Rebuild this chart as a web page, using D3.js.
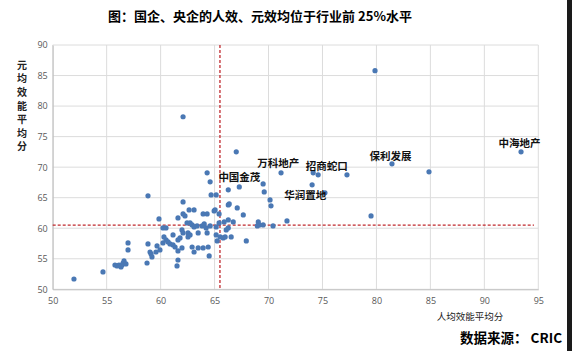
<!DOCTYPE html>
<html>
<head>
<meta charset="utf-8">
<script src="https://cdn.jsdelivr.net/npm/d3@7"></script>
<style>
  body { margin: 0; background: #fff; }
  svg { display: block; }
</style>
</head>
<body>
<div class="App"></div>
<script>
// 人均效能平均分 (x) / 元均效能平均分 (y)
let xValues = [51.97, 54.66, 55.96, 56.14, 56.42, 56.52, 56.61, 56.79, 56.33, 55.77,
  56.98, 56.98, 58.74, 58.83, 58.83, 59.02, 59.11, 59.20, 59.57, 59.67,
  59.85, 59.94, 60.22, 60.50, 60.22, 60.31, 60.50, 60.69, 60.87, 61.15,
  61.34, 61.15, 61.61, 61.61, 61.80, 61.61, 61.61, 61.52, 61.98, 62.08,
  61.98, 62.08, 62.08, 62.26, 62.08, 62.45, 62.54, 62.54, 62.73, 62.73,
  62.64, 62.92, 63.10, 63.10, 62.92, 63.10, 63.38, 63.48, 63.48, 63.85,
  63.94, 63.94, 64.04, 64.22, 64.31, 64.31, 64.59, 64.31, 64.50, 64.41,
  64.68, 64.96, 65.05, 65.15, 65.15, 65.24, 65.42, 65.52, 65.80, 66.08,
  65.98, 66.27, 66.27, 65.15, 64.59, 65.42, 65.89, 66.27, 66.73, 66.54,
  66.27, 66.36, 67.01, 67.10, 67.29, 67.66, 67.94, 69.05, 69.15, 68.96,
  69.50, 69.60, 69.50, 70.14, 70.23, 70.42, 71.16, 71.71, 74.14, 74.60,
  74.04, 75.23, 77.27, 79.87, 79.50, 81.44, 84.87, 93.40];
let yValues = [51.69, 52.84, 53.82, 53.98, 53.98, 54.31, 54.64, 54.15, 53.66, 53.98,
  57.59, 56.44, 54.31, 57.43, 65.30, 56.11, 55.79, 55.30, 56.11, 57.10,
  61.52, 56.44, 60.05, 60.05, 57.59, 58.57, 58.08, 57.75, 57.43, 57.26,
  56.93, 58.90, 61.69, 58.08, 58.41, 56.28, 54.80, 53.82, 59.72, 59.23,
  56.77, 64.31, 62.34, 62.02, 78.25, 60.87, 59.23, 58.57, 58.90, 60.87,
  63.00, 60.54, 60.21, 63.00, 56.93, 56.11, 60.38, 59.23, 56.77, 60.38,
  62.34, 56.77, 60.70, 60.05, 62.34, 59.23, 67.59, 69.07, 55.46, 56.93,
  65.46, 62.84, 63.00, 65.46, 58.90, 57.92, 62.34, 58.57, 58.41, 59.72,
  58.57, 63.82, 61.36, 60.21, 60.38, 60.87, 61.03, 60.05, 61.03, 58.57,
  66.28, 63.98, 72.51, 63.33, 66.77, 62.18, 57.92, 61.03, 60.54, 60.38,
  67.26, 65.95, 60.54, 64.64, 63.66, 60.38, 69.07, 61.20, 69.07, 68.74,
  67.10, 65.79, 68.74, 85.79, 62.02, 70.54, 69.23, 72.51];

let xTicks = [50, 55, 60, 65, 70, 75, 80, 85, 90, 95];
let yTicks = [50, 55, 60, 65, 70, 75, 80, 85, 90];

let labelNames = ['中海地产', '保利发展', '招商蛇口', '万科地产', '华润置地', '中国金茂'];
let labelX = [93.25, 81.3, 75.4, 70.9, 73.4, 67.3];
let labelY = [73.3, 71.1, 69.5, 70.05, 64.8, 67.75];

let avgX = 65.5, avgY = 60.5;

let width = 572, height = 351;
let plotLeft = 52.7, plotRight = 538.3, plotTop = 45, plotBottom = 289.3;

let svg = d3.select(".App").append("svg")
  .attr("width", width)
  .attr("height", height);

let x = d3.scaleLinear().domain([50, 95]).range([plotLeft, plotRight]);
let y = d3.scaleLinear().domain([50, 90]).range([plotBottom, plotTop]);

// gridlines
svg.append("g")
  .selectAll("line")
  .data(xTicks)
  .enter().append("line")
  .attr("x1", d => x(d)).attr("x2", d => x(d))
  .attr("y1", plotTop).attr("y2", plotBottom)
  .attr("stroke", "#dcdcdc").attr("stroke-width", 1);

svg.append("g")
  .selectAll("line")
  .data(yTicks)
  .enter().append("line")
  .attr("x1", plotLeft).attr("x2", plotRight)
  .attr("y1", d => y(d)).attr("y2", d => y(d))
  .attr("stroke", "#dcdcdc").attr("stroke-width", 1);

// axes
let xAxis = svg.append("g")
  .attr("transform", "translate(0," + plotBottom + ")")
  .call(d3.axisBottom(x).tickValues(xTicks).tickSize(0).tickPadding(8));
let yAxis = svg.append("g")
  .attr("transform", "translate(" + plotLeft + ",0)")
  .call(d3.axisLeft(y).tickValues(yTicks).tickSize(0).tickPadding(5));

[xAxis, yAxis].forEach(function(a) {
  a.select(".domain").attr("stroke", "#bfbfbf");
  a.selectAll("text")
    .attr("fill", "#595959")
    .style("font-family", "'Open Sans', sans-serif")
    .style("font-size", "9px");
});

// average lines
svg.append("line")
  .attr("x1", x(50)).attr("x2", x(94.6))
  .attr("y1", y(avgY)).attr("y2", y(avgY))
  .attr("stroke", "#c0282d").attr("stroke-width", 1.3)
  .attr("stroke-dasharray", "3,2");
svg.append("line")
  .attr("x1", x(avgX)).attr("x2", x(avgX))
  .attr("y1", plotTop).attr("y2", plotBottom)
  .attr("stroke", "#c0282d").attr("stroke-width", 1.3)
  .attr("stroke-dasharray", "3,2");

// points
svg.append("g")
  .selectAll("circle")
  .data(d3.range(xValues.length))
  .enter().append("circle")
  .attr("cx", i => x(xValues[i]))
  .attr("cy", i => y(yValues[i]))
  .attr("r", 2.6)
  .attr("fill", "#4a78b4");

// labels
svg.append("g")
  .selectAll("text")
  .data(d3.range(labelNames.length))
  .enter().append("text")
  .attr("x", i => x(labelX[i]))
  .attr("y", i => y(labelY[i]))
  .attr("text-anchor", "middle")
  .attr("fill", "#111")
  .style("font-family", "'Noto Sans CJK SC', sans-serif")
  .style("font-weight", "bold")
  .style("font-size", "10.5px")
  .text(i => labelNames[i]);

// title
svg.append("text")
  .attr("x", 260).attr("y", 21)
  .attr("text-anchor", "middle")
  .attr("fill", "#000")
  .style("font-family", "'Noto Sans CJK SC', sans-serif")
  .style("font-weight", "bold")
  .style("font-size", "13px")
  .text("图：国企、央企的人效、元效均位于行业前 25%水平");

// y axis title, written top to bottom
svg.append("text")
  .attr("x", 22)
  .attr("y", 60)
  .attr("fill", "#222")
  .style("writing-mode", "vertical-rl")
  .style("text-orientation", "upright")
  .style("letter-spacing", "3.6px")
  .style("font-family", "'Noto Sans CJK SC', sans-serif")
  .style("font-weight", "bold")
  .style("font-size", "10px")
  .text("元均效能平均分");

// x axis title
svg.append("text")
  .attr("x", 470).attr("y", 320)
  .attr("text-anchor", "middle")
  .attr("fill", "#222")
  .style("font-family", "'Noto Sans CJK SC', sans-serif")
  .style("font-size", "9.5px")
  .text("人均效能平均分");

// source
svg.append("text")
  .attr("x", 562).attr("y", 343)
  .attr("text-anchor", "end")
  .attr("fill", "#000")
  .style("font-family", "'Noto Sans CJK SC', sans-serif")
  .style("font-weight", "bold")
  .style("font-size", "13.5px")
  .text("数据来源：  CRIC");

// dark edge on the right of the picture
svg.append("rect")
  .attr("x", 567).attr("y", 0)
  .attr("width", 5).attr("height", height)
  .attr("fill", "#1a1a1a");
</script>
</body>
</html>
